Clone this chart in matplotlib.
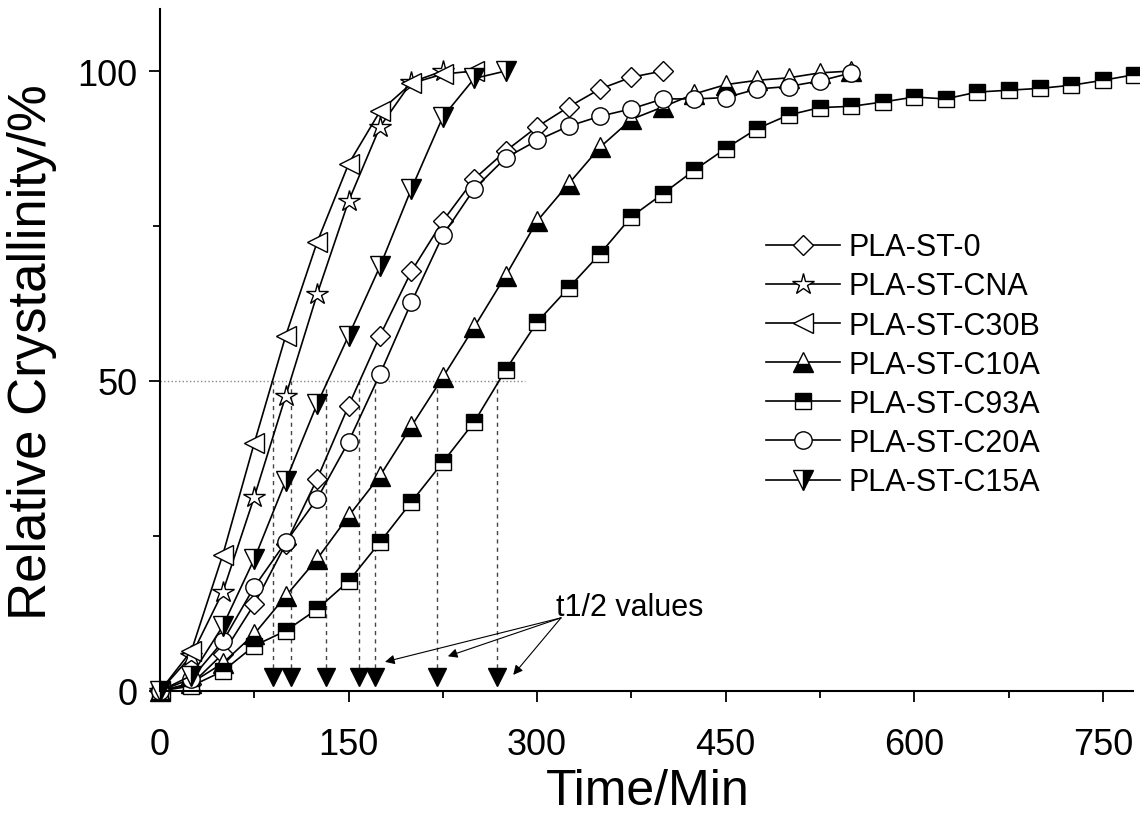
import numpy as np
import matplotlib
matplotlib.use("Agg")
import matplotlib.pyplot as plt

plt.rcParams['font.family'] = ['Liberation Sans', 'DejaVu Sans']

# datos (tiempo en min, cristalinidad relativa en %)
paso = 25
y_st0 = [0, 1.1, 6, 14, 23.7, 34.2, 46, 57.3, 67.7, 75.8, 82.6, 87.1, 91, 94.2, 97.1, 99, 100]
y_cna = [0, 5.7, 16, 31.3, 47.6, 64, 79, 91, 98.2, 100]
y_c30b = [0, 6.5, 22, 40, 57.3, 72.4, 85, 93.5, 98, 99.5, 100]
y_c10a = [0, 1.3, 4.5, 9.2, 15.3, 21.3, 28.2, 34.7, 42.7, 50.6, 58.7, 67, 75.8, 81.8, 87.7,
          92.2, 94.2, 96.3, 97.8, 98.5, 98.9, 99.7, 100]
y_c93a = [0, 0.8, 3.2, 7.3, 9.7, 13.2, 17.7, 24, 30.5, 36.9, 43.4, 51.8, 59.5, 65, 70.5, 76.5,
          80.2, 84, 87.5, 90.7, 92.9, 94.1, 94.3, 95, 95.8, 95.5, 96.6, 96.9, 97.2, 97.7, 98.5, 99.4]
y_c20a = [0, 2, 8, 16.8, 24, 31, 40.2, 51.1, 62.7, 73.5, 81, 86, 88.8, 91.1, 92.7, 93.9,
          95.5, 95.5, 95.7, 97.1, 97.5, 98.4, 99.7]
y_c15a = [0, 2.5, 10.5, 21.3, 33.9, 46.3, 57.3, 68.5, 81, 92.6, 98.8, 100]

# valores t1/2 (min)
t_mitad = [90, 104, 132, 158, 171, 220, 268]
nivel_mitad = 50
fin_guia = 290
y_marca = 2.2
# anotacion "t1/2 values"
texto_pos = (315, 13.6)
origen_flecha = (319, 11.8)
puntas_flecha = [(179, 4.7), (229, 5.6), (281, 2.6)]

def tiempos(vals):
    return np.arange(len(vals)) * paso

fig = plt.figure(figsize=(11.4, 8.2), dpi=100)
ax = fig.add_axes([160/1140, 128/820, (1133-160)/1140, (692-10)/820])

comun = dict(color='black', lw=1.2, mec='black', mew=1.0, clip_on=False)
ax.plot(tiempos(y_st0), y_st0, marker='D', ms=10.5, mfc='white', label='PLA-ST-0', **comun)
ax.plot(tiempos(y_cna), y_cna, marker='*', ms=16, mfc='white', label='PLA-ST-CNA', **comun)
ax.plot(tiempos(y_c30b), y_c30b, marker='<', ms=14, mfc='white', label='PLA-ST-C30B', **comun)
ax.plot(tiempos(y_c10a), y_c10a, marker='^', ms=14, mfc='black', mfcalt='white',
        fillstyle='bottom', label='PLA-ST-C10A', **comun)
ax.plot(tiempos(y_c93a), y_c93a, marker='s', ms=11.5, mfc='black', mfcalt='white',
        fillstyle='top', label='PLA-ST-C93A', **comun)
ax.plot(tiempos(y_c20a), y_c20a, marker='o', ms=12.5, mfc='white', label='PLA-ST-C20A', **comun)
ax.plot(tiempos(y_c15a), y_c15a, marker='v', ms=14, mfc='black', mfcalt='white',
        fillstyle='right', label='PLA-ST-C15A', **comun)

# lineas guia del t1/2
ax.plot([0, fin_guia], [nivel_mitad, nivel_mitad], ls=':', color='#888888', lw=1.0, zorder=0)
ax.vlines(t_mitad, y_marca + 1.5, nivel_mitad, linestyles=(0, (3, 3)), color='#444444', lw=1.0, zorder=0)
ax.plot(t_mitad, [y_marca] * len(t_mitad), 'v', ms=13, color='black', ls='none', clip_on=False)

ax.text(texto_pos[0], texto_pos[1], 't1/2 values', fontsize=22, va='center', ha='left')
for punta in puntas_flecha:
    ax.annotate('', xy=punta, xytext=origen_flecha,
                arrowprops=dict(arrowstyle='-|>', lw=0.8, color='black', mutation_scale=14,
                                shrinkA=0, shrinkB=0))

ax.set_xlim(0, 774)
ax.set_ylim(0, 110)
ax.set_xticks(np.arange(0, 751, 150))
ax.set_xticks(np.arange(75, 751, 150), minor=True)
ax.set_yticks([0, 50, 100])
ax.set_yticks([25, 75], minor=True)
ax.tick_params(which='major', direction='out', length=8, width=1.3, labelsize=26)
ax.tick_params(axis='x', which='major', pad=18)
ax.tick_params(axis='y', which='major', pad=8)
ax.tick_params(which='minor', direction='out', length=5, width=1.3)
for lado in ['top', 'right']:
    ax.spines[lado].set_visible(False)
for lado in ['left', 'bottom']:
    ax.spines[lado].set_linewidth(1.5)

fig.text(32/1140, 1 - 352/820, 'Relative Crystallinity/%', rotation=90, fontsize=38,
         ha='center', va='center')
fig.text(648/1140, 1 - 792/820, 'Time/Min', fontsize=36, ha='center', va='center')

ax.legend(loc='upper left', bbox_to_anchor=(751/1140, 1 - 218/820),
          bbox_transform=fig.transFigure, frameon=False, fontsize=22,
          handlelength=2.4, handletextpad=0.3, labelspacing=0.3, borderpad=0)

fig.savefig('out.png', dpi=100)
